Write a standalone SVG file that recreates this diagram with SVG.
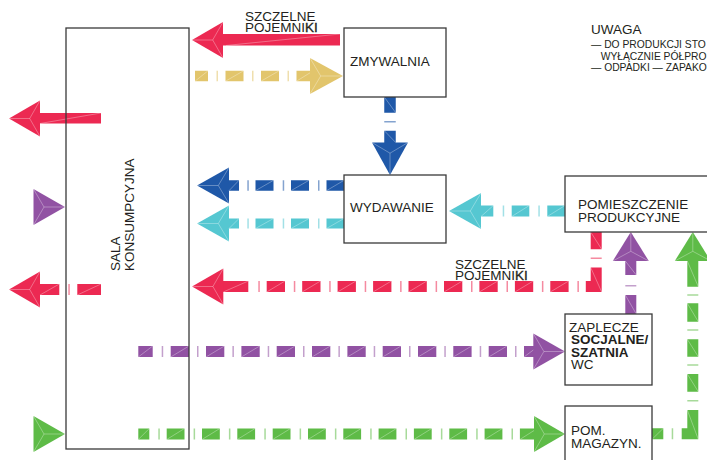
<svg xmlns="http://www.w3.org/2000/svg" width="707" height="460" viewBox="0 0 707 460">
<style>
.t{font-family:"Liberation Sans",Arial,Helvetica,sans-serif;font-size:13.5px;fill:#231f20}
.n{font-size:10.3px}
.b{font-weight:bold}
.sb{stroke:#231f20;stroke-width:0.35}
.box{fill:none;stroke:#3a3a3a;stroke-width:1.3}
.d{fill:none;stroke-linecap:butt;stroke-linejoin:miter}
.tk{fill:none;stroke-opacity:0.55}
.fc{fill:none;stroke:#fff;stroke-opacity:0.45;stroke-width:0.7}
.red{fill:#EC2952;stroke:#EC2952}
.yel{fill:#E2C56C;stroke:#E2C56C}
.blu{fill:#1F58A8;stroke:#1F58A8}
.cya{fill:#55C7D1;stroke:#55C7D1}
.pur{fill:#9152A3;stroke:#9152A3}
.grn{fill:#5EBB47;stroke:#5EBB47}
.hd{stroke:none}
</style>
<rect width="707" height="460" fill="#fff"/>
<g id="connectors">
  <g id="c-red-top" class="red">
    <rect class="hd" x="222" y="34" width="118" height="11.5"/>
    <polygon class="hd" points="192,40 223,22 223,58"/>
    <path class="fc" d="M192,40 L212.7,40 M223,22 L212.7,40 L223,58 M226,45.5 L340,34"/>
  </g>
  <g id="c-yellow" class="yel">
    <path class="d" stroke-width="10.5" d="M195,76H208M225.5,76H243.5M261,76H279M296.5,76H311"/>
    <path class="tk" stroke-width="10.5" d="M216.5,76h1.5M252,76h1.5M287.5,76h1.5"/>
    <polygon class="hd" points="310,58 343,76 310,94"/>
    <path class="fc" d="M343,76 L320.7,76 M310,58 L320.7,76 L310,94 M195,81.2L208,70.8M225.5,81.2L243.5,70.8M261,81.2L279,70.8M296.5,81.2L310,72.8"/>
  </g>
  <g id="c-blue-down" class="blu">
    <path class="d" stroke-width="11.5" d="M390,97V112.7M390,130.7V143"/>
    <path class="tk" stroke-width="11.5" d="M390,121V122.5"/>
    <polygon class="hd" points="372,142.5 408,142.5 390,175"/>
    <path class="fc" d="M390,175 L390,153.2 M372,142.5 L390,153.2 L408,142.5 M384.3,97L395.7,112.7M384.3,130.7L395.7,142.5"/>
  </g>
  <g id="c-red-out1" class="red">
    <rect class="hd" x="39" y="113" width="62" height="10.5"/>
    <polygon class="hd" points="9,118.5 40,100.5 40,136.5"/>
    <path class="fc" d="M9,118.5 L29.7,118.5 M40,100.5 L29.7,118.5 L40,136.5 M40,123.5 L101,113"/>
  </g>
  <g id="c-pur-in" class="pur">
    <polygon class="hd" points="33.5,189 65,207 33.5,225"/>
    <path class="fc" d="M65,207 L44,207 M33.5,189 L44,207 L33.5,225"/>
  </g>
  <g id="c-blue-left" class="blu">
    <path class="d" stroke-width="10.5" d="M228,185.5H239M255.5,185.5H273.5M291,185.5H309M326.5,185.5H344"/>
    <path class="tk" stroke-width="10.5" d="M247.3,185.5h1.5M282.7,185.5h1.5M318,185.5h1.5"/>
    <polygon class="hd" points="197,185.5 229,167.5 229,203.5"/>
    <path class="fc" d="M197,185.5 L218.3,185.5 M229,167.5 L218.3,185.5 L229,203.5 M229,190.7L239,180.3M255.5,190.7L273.5,180.3M291,190.7L309,180.3M326.5,190.7L344,180.3"/>
  </g>
  <g id="c-cyan-left" class="cya">
    <path class="d" stroke-width="10" d="M228,223.5H239M255.5,223.5H273.5M291,223.5H309M326.5,223.5H344"/>
    <path class="tk" stroke-width="10" d="M247.3,223.5h1.5M282.7,223.5h1.5M318,223.5h1.5"/>
    <polygon class="hd" points="197,223.5 229,205.5 229,241.5"/>
    <path class="fc" d="M197,223.5 L218.3,223.5 M229,205.5 L218.3,223.5 L229,241.5 M229,228.5L239,218.5M255.5,228.5L273.5,218.5M291,228.5L309,218.5M326.5,228.5L344,218.5"/>
  </g>
  <g id="c-cyan-right" class="cya">
    <path class="d" stroke-width="11" d="M480,211H493.3M511.7,211H529.3M547.3,211H565"/>
    <path class="tk" stroke-width="11" d="M502.7,211h1.5M538.3,211h1.5"/>
    <polygon class="hd" points="449,211 481,193 481,229"/>
    <path class="fc" d="M449,211 L470.3,211 M481,193 L470.3,211 L481,229 M481,216.5L493.3,205.5M511.7,216.5L529.3,205.5M547.3,216.5L565,205.5"/>
  </g>
  <g id="c-red-out2" class="red">
    <path class="d" stroke-width="11" d="M39,289.5H59.3M77.3,289.5H101"/>
    <path class="tk" stroke-width="11" d="M68.3,289.5h1.5"/>
    <polygon class="hd" points="9,289.5 40,271.5 40,307.5"/>
    <path class="fc" d="M9,289.5 L29.7,289.5 M40,271.5 L29.7,289.5 L40,307.5 M40,295L59.3,284M77.3,295L101,284"/>
  </g>
  <g id="c-red-bent" class="red">
    <path class="d" stroke-width="11" d="M222,286.5H248.3M266.7,286.5H285M302.2,286.5H320.5M337.6,286.5H355.9M373.1,286.5H391.4M408.5,286.5H426.8M444,286.5H462.3M479.4,286.5H497.7M514.9,286.5H533.2M550.3,286.5H568.6M585.8,286.5H596.2V267.5M596.2,249.3V232"/>
    <path class="tk" stroke-width="11" d="M258.3,286.5h1.5M293.8,286.5h1.5M329.2,286.5h1.5M364.7,286.5h1.5M400.1,286.5h1.5M435.6,286.5h1.5M471,286.5h1.5M506.5,286.5h1.5M541.9,286.5h1.5M577.4,286.5h1.5M596.2,257.6v1.5"/>
    <polygon class="hd" points="192,286.5 223.3,268.5 223.3,304.5"/>
    <path class="fc" d="M192,286.5 L212.9,286.5 M223.3,268.5 L212.9,286.5 L223.3,304.5 M223.3,292L248.3,281M266.7,292L285,281M302.2,292L320.5,281M337.6,292L355.9,281M373.1,292L391.4,281M408.5,292L426.8,281M444,292L462.3,281M479.4,292L497.7,281M514.9,292L533.2,281M550.3,292L568.6,281M590.7,267.5L601.7,292M590.7,232L601.7,249.3"/>
  </g>
  <g id="c-pur-h" class="pur">
    <path class="d" stroke-width="11" d="M138.3,351.5H152.7M170.7,351.5H189M206,351.5H224.3M241.4,351.5H259.7M276.7,351.5H295M312,351.5H330.3M347.4,351.5H365.7M382.7,351.5H401M418,351.5H436.3M453.3,351.5H471.6M488.7,351.5H507M524,351.5H535"/>
    <path class="tk" stroke-width="11" d="M161.7,351.5h1.5M197,351.5h1.5M232.4,351.5h1.5M267.7,351.5h1.5M303,351.5h1.5M338.4,351.5h1.5M373.7,351.5h1.5M409,351.5h1.5M444.3,351.5h1.5M479.7,351.5h1.5M515,351.5h1.5"/>
    <polygon class="hd" points="565,351.5 533.3,333.5 533.3,369.5"/>
    <path class="fc" d="M565,351.5 L543.9,351.5 M533.3,333.5 L543.9,351.5 L533.3,369.5 M138.3,357L152.7,346M170.7,357L189,346M206,357L224.3,346M241.4,357L259.7,346M276.7,357L295,346M312,357L330.3,346M347.4,357L365.7,346M382.7,357L401,346M418,357L436.3,346M453.3,357L471.6,346M488.7,357L507,346M524,357L533.3,350"/>
  </g>
  <g id="c-pur-v" class="pur">
    <path class="d" stroke-width="11" d="M630.8,260V275M630.8,295V314"/>
    <path class="tk" stroke-width="11" d="M630.8,285v1.5"/>
    <polygon class="hd" points="630.8,232 612.8,261 648.8,261"/>
    <path class="fc" d="M630.8,232 L630.8,251.3 M612.8,261 L630.8,251.3 L648.8,261 M625.3,261L636.3,275M625.3,295L636.3,314"/>
  </g>
  <g id="c-grn-in" class="grn">
    <polygon class="hd" points="33.5,416 65,434 33.5,452"/>
    <path class="fc" d="M65,434 L44,434 M33.5,416 L44,434 L33.5,452"/>
  </g>
  <g id="c-grn-h" class="grn">
    <path class="d" stroke-width="11" d="M138.3,434H149.3M166.7,434H184.5M202,434H219.8M237.3,434H255.1M272.7,434H290.5M308,434H325.8M343.3,434H361.1M378.6,434H396.4M413.9,434H431.7M449.3,434H467.1M484.6,434H502.4M519.9,434H535"/>
    <path class="tk" stroke-width="11" d="M158.3,434h1.5M193.6,434h1.5M228.9,434h1.5M264.3,434h1.5M299.6,434h1.5M334.9,434h1.5M370.2,434h1.5M405.5,434h1.5M440.9,434h1.5M476.2,434h1.5M511.5,434h1.5"/>
    <polygon class="hd" points="565,434 534,416 534,452"/>
    <path class="fc" d="M565,434 L544.3,434 M534,416 L544.3,434 L534,452 M138.3,439.5L149.3,428.5M166.7,439.5L184.5,428.5M202,439.5L219.8,428.5M237.3,439.5L255.1,428.5M272.7,439.5L290.5,428.5M308,439.5L325.8,428.5M343.3,439.5L361.1,428.5M378.6,439.5L396.4,428.5M413.9,439.5L431.7,428.5M449.3,439.5L467.1,428.5M484.6,439.5L502.4,428.5M519.9,439.5L534,430.5"/>
  </g>
  <g id="c-grn-v" class="grn">
    <path class="d" stroke-width="11" d="M652,433.8H663.3M681.7,433.8H692.8V410M692.8,391.7V374M692.8,356.7V339.3M692.8,321.7V303.3M692.8,286.7V260"/>
    <path class="tk" stroke-width="11" d="M671.7,433.8h1.5M692.8,400v1.5M692.8,364.3v1.5M692.8,329.3v1.5M692.8,294.3v1.5"/>
    <polygon class="hd" points="692.8,232 674.8,261 710.8,261"/>
    <path class="fc" d="M692.8,232 L692.8,251.3 M674.8,261 L692.8,251.3 L710.8,261 M652,439.3L663.3,428.3M687.3,374L698.3,391.7M687.3,339.3L698.3,356.7M687.3,303.3L698.3,321.7M687.3,261L698.3,286.7M687.3,410L698.3,439.3"/>
  </g>
  <text class="t"><tspan x="245" y="21">SZCZELNE</tspan><tspan x="245" y="32.3">POJEMNI<tspan class="sb">KI</tspan></tspan></text>
  <text class="t"><tspan x="455" y="268.5">SZCZELNE</tspan><tspan x="455" y="280">POJEMNI<tspan class="sb">KI</tspan></tspan></text>
</g>
<g id="n-sala">
  <rect class="box" x="66" y="28" width="123" height="421"/>
  <text class="t" transform="translate(120,271) rotate(-90)"><tspan x="0" y="0">SALA</tspan><tspan x="0" y="14">KONSUMPCYJNA</tspan></text>
</g>
<g id="n-zmywalnia">
  <rect class="box" x="344" y="28" width="102" height="69"/>
  <text class="t" x="350" y="65.5">ZMYWALNIA</text>
</g>
<g id="n-wydawanie">
  <rect class="box" x="344" y="175" width="102" height="68"/>
  <text class="t" x="350" y="212">WYDAWANIE</text>
</g>
<g id="n-pomieszczenie">
  <rect class="box" x="565" y="176" width="160" height="56"/>
  <text class="t"><tspan x="578" y="209">POMIESZCZENIE</tspan><tspan x="578" y="222">PRODUKCYJNE</tspan></text>
</g>
<g id="n-zaplecze">
  <rect class="box" x="565" y="314" width="87" height="71"/>
  <text class="t"><tspan x="569" y="331.5">ZAPLECZE</tspan><tspan class="b" x="571" y="343.5">SOCJALNE/</tspan><tspan class="b" x="571" y="356.5">SZATNIA</tspan><tspan x="571" y="369">WC</tspan></text>
</g>
<g id="n-magazyn">
  <rect class="box" x="565" y="406" width="87" height="70"/>
  <text class="t"><tspan x="571" y="435">POM.</tspan><tspan x="571" y="448">MAGAZYN.</tspan></text>
</g>
<g id="uwaga">
  <text class="t"><tspan x="591" y="34">UWAGA</tspan><tspan class="n" x="591" y="47.5">— DO PRODUKCJI STO</tspan><tspan class="n" x="600.7" y="60">WYŁĄCZNIE PÓŁPRO</tspan><tspan class="n" x="591" y="71">— ODPADKI — ZAPAKO</tspan></text>
</g>
</svg>
